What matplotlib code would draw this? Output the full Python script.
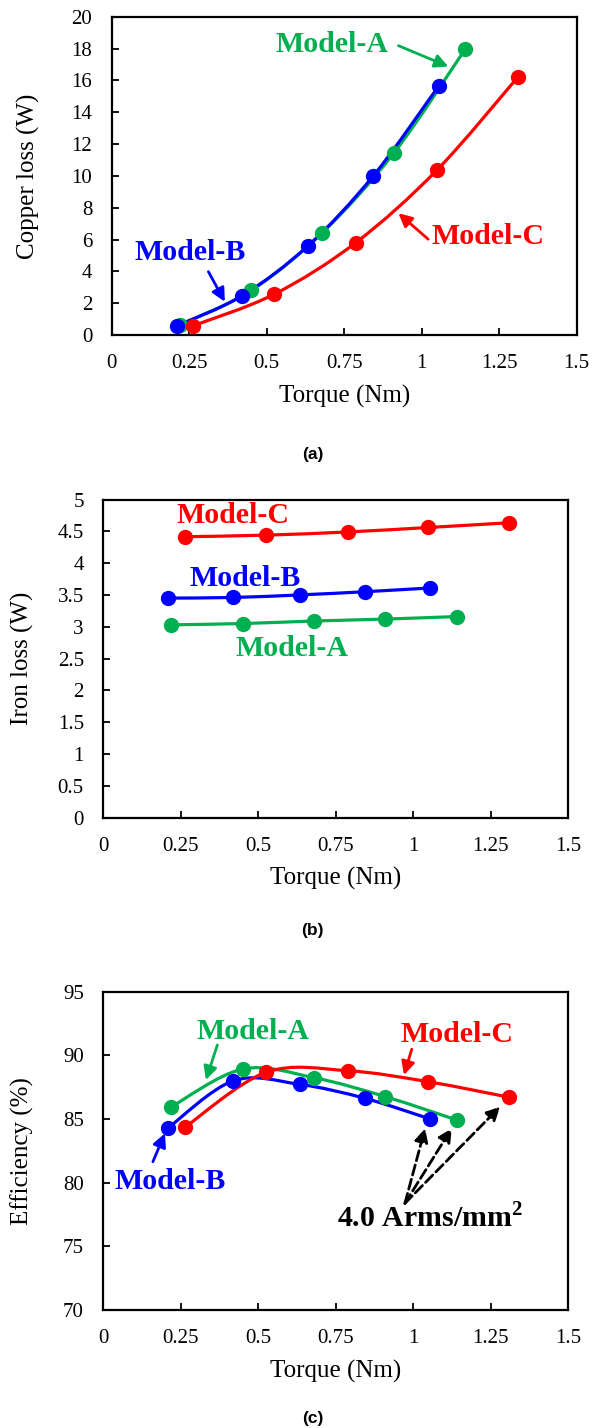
## imports
import matplotlib
matplotlib.use('Agg')
import matplotlib.pyplot as plt
from matplotlib.path import Path
from matplotlib.patches import PathPatch
from matplotlib.ticker import MultipleLocator, FuncFormatter

## data (torque in Nm)
torque_a = [0.22, 0.45, 0.68, 0.91, 1.14]
torque_b = [0.21, 0.42, 0.633, 0.844, 1.055]
torque_c = [0.263, 0.525, 0.788, 1.049, 1.31]

# copper loss (W)
copper_a = [0.63, 2.8, 6.44, 11.43, 17.95]
copper_b = [0.58, 2.46, 5.6, 10.0, 15.65]
copper_c = [0.58, 2.57, 5.81, 10.36, 16.2]

# iron loss (W)
iron_a = [3.03, 3.05, 3.09, 3.12, 3.16]
iron_b = [3.45, 3.46, 3.50, 3.55, 3.61]
iron_c = [4.415, 4.44, 4.49, 4.56, 4.635]

# efficiency (%)
eff_a = [85.97, 88.93, 88.25, 86.76, 84.93]
eff_b = [84.32, 88.01, 87.73, 86.63, 85.0]
eff_c = [84.35, 88.67, 88.8, 87.93, 86.71]

models = ['Model-A', 'Model-B', 'Model-C']
colors = {'Model-A': '#00B050', 'Model-B': '#0000FF', 'Model-C': '#FF0000'}
torques = {'Model-A': torque_a, 'Model-B': torque_b, 'Model-C': torque_c}

plt.rcParams['font.family'] = 'Liberation Serif'
plt.rcParams['mathtext.fontset'] = 'custom'
plt.rcParams['mathtext.rm'] = 'Liberation Serif'
plt.rcParams['mathtext.bf'] = 'Liberation Serif:bold'


def smooth_path(xs, ys):
	# excel-like smoothed line: catmull-rom segments as cubic beziers
	pts = list(zip(xs, ys))
	n = len(pts)
	verts = [pts[0]]
	codes = [Path.MOVETO]
	for i in range(n - 1):
		p0 = pts[max(i - 1, 0)]
		p1 = pts[i]
		p2 = pts[i + 1]
		p3 = pts[min(i + 2, n - 1)]
		c1 = (p1[0] + (p2[0] - p0[0]) / 6, p1[1] + (p2[1] - p0[1]) / 6)
		c2 = (p2[0] - (p3[0] - p1[0]) / 6, p2[1] - (p3[1] - p1[1]) / 6)
		verts += [c1, c2, p2]
		codes += [Path.CURVE4] * 3
	return Path(verts, codes)


def draw_series(ax, values):
	for name in models:
		xs = torques[name]
		ys = values[name]
		ax.add_patch(PathPatch(smooth_path(xs, ys), fill=False, edgecolor=colors[name],
			lw=2.3, capstyle='round', joinstyle='round', zorder=3))
		ax.plot(xs, ys, 'o', color=colors[name], markersize=10, zorder=4)


def style_axes(ax, ymin, ymax, ystep, ylabel, ylabel_x):
	ax.set_xlim(0, 1.5)
	ax.set_ylim(ymin, ymax)
	ax.xaxis.set_major_locator(MultipleLocator(0.25))
	ax.yaxis.set_major_locator(MultipleLocator(ystep))
	fmt = FuncFormatter(lambda v, p: '%g' % v)
	ax.xaxis.set_major_formatter(fmt)
	ax.yaxis.set_major_formatter(fmt)
	ax.tick_params(direction='in', length=5, width=1.3, labelsize=15, pad=14)
	for s in ax.spines.values():
		s.set_linewidth(1.6)
	ax.set_xlabel('Torque (Nm)', fontsize=18)
	ax.set_ylabel(ylabel, fontsize=18)
	ax.xaxis.label.set_va('center')
	ax.yaxis.label.set_va('center')
	ax.xaxis.set_label_coords(0.5, -0.193)
	ax.yaxis.set_label_coords(ylabel_x, 0.5)


def label(ax, name, xy, start=None, end=None, color=None, size=21.5):
	c = color if color else colors[name]
	ax.text(xy[0], xy[1], name, ha='center', va='center', fontsize=size,
		fontweight='bold', color=c, zorder=6)
	if start is not None:
		ax.annotate('', xy=end, xytext=start, zorder=6,
			arrowprops=dict(arrowstyle='-|>', color=c, lw=2, mutation_scale=20,
				shrinkA=0, shrinkB=0))


def main():
	fig = plt.figure(figsize=(6.05, 14.28), dpi=100)

	## (a) copper loss
	ax1 = fig.add_axes([0.1846, 0.7654, 0.7686, 0.2229])
	draw_series(ax1, {'Model-A': copper_a, 'Model-B': copper_b, 'Model-C': copper_c})
	style_axes(ax1, 0, 20, 2, 'Copper loss (W)', -0.18)
	label(ax1, 'Model-A', (0.71, 18.24), (0.925, 18.18), (1.086, 16.87))
	label(ax1, 'Model-B', (0.253, 5.2), (0.312, 3.98), (0.365, 2.09))
	label(ax1, 'Model-C', (1.215, 6.16), (1.021, 6.02), (0.925, 7.65))

	## (b) iron loss
	ax2 = fig.add_axes([0.1707, 0.4275, 0.7686, 0.2227])
	draw_series(ax2, {'Model-A': iron_a, 'Model-B': iron_b, 'Model-C': iron_c})
	style_axes(ax2, 0, 5, 0.5, 'Iron loss (W)', -0.173)
	label(ax2, 'Model-C', (0.418, 4.756))
	label(ax2, 'Model-B', (0.459, 3.76))
	label(ax2, 'Model-A', (0.608, 2.66))

	## (c) efficiency
	ax3 = fig.add_axes([0.1707, 0.0826, 0.7686, 0.2229])
	draw_series(ax3, {'Model-A': eff_a, 'Model-B': eff_b, 'Model-C': eff_c})
	style_axes(ax3, 70, 95, 5, 'Efficiency (%)', -0.175)
	label(ax3, 'Model-A', (0.483, 91.86), (0.368, 90.82), (0.331, 88.07))
	label(ax3, 'Model-C', (1.14, 91.68), (0.995, 90.48), (0.97, 88.46))
	label(ax3, 'Model-B', (0.215, 80.13), (0.16, 81.65), (0.199, 83.88))

	# current density note with dashed arrows
	ax3.text(1.054, 77.2, r'4.0 Arms/mm$^{\mathbf{2}}$', ha='center', va='center',
		fontsize=21.5, fontweight='bold', color='black', zorder=6)
	apex = (0.973, 78.38)
	for end in [(1.038, 84.27), (1.124, 84.27), (1.28, 85.97)]:
		ax3.annotate('', xy=end, xytext=apex, zorder=6,
			arrowprops=dict(arrowstyle='-|>', color='black', lw=2, linestyle='--',
				mutation_scale=20, shrinkA=0, shrinkB=0))

	## captions
	for y, cap in [(0.6814, '(a)'), (0.3487, '(b)'), (0.0070, '(c)')]:
		fig.text(0.517, y, cap, ha='center', va='center', fontsize=12.5,
			fontweight='bold', family='Liberation Sans')

	fig.savefig('out.png', dpi=100)


main()
